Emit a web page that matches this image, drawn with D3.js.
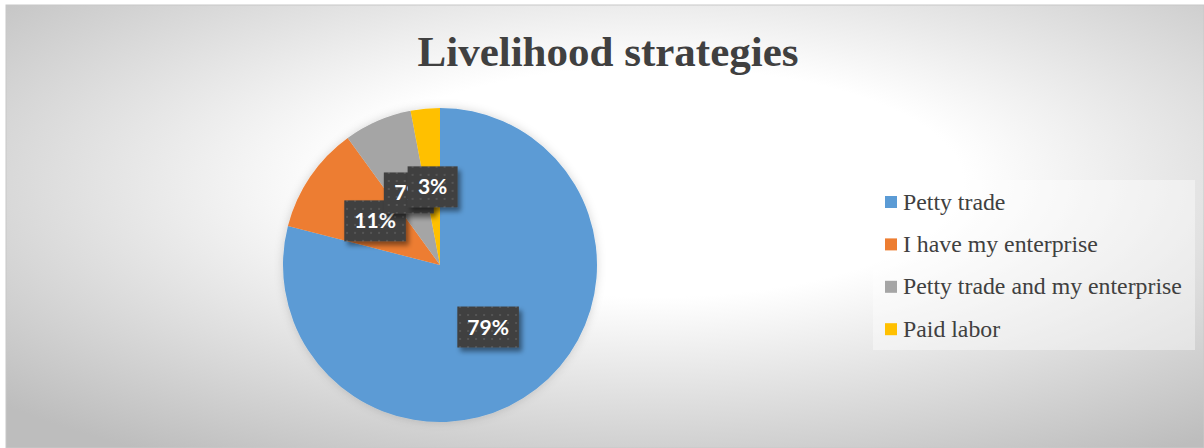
<!DOCTYPE html>
<html>
<head>
<meta charset="utf-8">
<script src="https://cdn.jsdelivr.net/npm/d3@7/dist/d3.min.js"></script>
<style>
  html, body { margin: 0; padding: 0; background: #ffffff; }
  svg { display: block; }
  .serif { font-family: "Liberation Serif", "Times New Roman", Tinos, serif; }
  .label { font-family: Lato, "Open Sans", sans-serif; }
</style>
</head>
<body>
<svg id="chart" width="1204" height="448"></svg>
<script>
// Livelihood strategies — share of respondents by main strategy
const categories = ["Petty trade", "I have my enterprise", "Petty trade and my enterprise", "Paid labor"];
const shares = [79, 11, 7, 3];
const colors = ["#5B9BD5", "#ED7D31", "#A5A5A5", "#FFC000"];
const title = "Livelihood strategies";

const W = 1204, H = 448;
const svg = d3.select("#chart");
const defs = svg.append("defs");

// chart area background: soft radial fade from white to grey
const bg = defs.append("radialGradient")
  .attr("id", "bgGrad")
  .attr("cx", 0.54).attr("cy", 0.40).attr("r", 0.74);
bg.append("stop").attr("offset", 0).attr("stop-color", "#ffffff");
bg.append("stop").attr("offset", 0.35).attr("stop-color", "#ffffff");
bg.append("stop").attr("offset", 1).attr("stop-color", "#bdbdbd");

// soft glow under the pie
const pieShadow = defs.append("filter").attr("id", "pieShadow")
  .attr("x", -0.2).attr("y", -0.2).attr("width", 1.4).attr("height", 1.4);
pieShadow.append("feGaussianBlur").attr("in", "SourceAlpha").attr("stdDeviation", 5).attr("result", "b");
pieShadow.append("feFlood").attr("flood-color", "#000").attr("flood-opacity", 0.16);
pieShadow.append("feComposite").attr("in2", "b").attr("operator", "in").attr("result", "s");
const pm = pieShadow.append("feMerge");
pm.append("feMergeNode").attr("in", "s");
pm.append("feMergeNode").attr("in", "SourceGraphic");

// drop shadow for the data label boxes
const boxShadow = defs.append("filter").attr("id", "boxShadow")
  .attr("x", -0.3).attr("y", -0.3).attr("width", 1.6).attr("height", 1.6);
boxShadow.append("feGaussianBlur").attr("in", "SourceAlpha").attr("stdDeviation", 2.5).attr("result", "b");
boxShadow.append("feOffset").attr("in", "b").attr("dx", 3).attr("dy", 4).attr("result", "o");
boxShadow.append("feFlood").attr("flood-color", "#000").attr("flood-opacity", 0.45);
boxShadow.append("feComposite").attr("in2", "o").attr("operator", "in").attr("result", "s");
const bm = boxShadow.append("feMerge");
bm.append("feMergeNode").attr("in", "s");
bm.append("feMergeNode").attr("in", "SourceGraphic");

// dotted texture for the label boxes
const dots = defs.append("pattern").attr("id", "dots")
  .attr("patternUnits", "userSpaceOnUse").attr("width", 8).attr("height", 8);
dots.append("rect").attr("width", 8).attr("height", 8).attr("fill", "#404040");
dots.append("rect").attr("x", 3).attr("y", 3).attr("width", 2).attr("height", 2).attr("fill", "#555555");

svg.append("rect")
  .attr("x", 6).attr("y", 5).attr("width", W - 6).attr("height", H - 5)
  .attr("fill", "url(#bgGrad)")
  .attr("stroke", "#c8c8c8").attr("stroke-width", 1);

svg.append("text")
  .attr("class", "serif")
  .attr("x", 608).attr("y", 66)
  .attr("text-anchor", "middle")
  .attr("font-weight", "bold")
  .attr("font-size", 43)
  .attr("fill", "#404040")
  .text(title);

// pie
const cx = 440, cy = 265, R = 157;
const pie = d3.pie().sort(null).value(d => d)(shares);
const arc = d3.arc().innerRadius(0).outerRadius(R);
const color = d3.scaleOrdinal().domain(categories).range(colors);

const g = svg.append("g").attr("transform", `translate(${cx},${cy})`);
g.append("g").attr("filter", "url(#pieShadow)")
  .selectAll("path").data(pie).join("path")
  .attr("d", arc)
  .attr("fill", (d, i) => color(categories[i]));

// data labels centred halfway along each slice's mid-angle
const labels = g.append("g").selectAll("g").data(pie).join("g")
  .attr("transform", d => `translate(${arc.centroid(d)})`);
labels.each(function(d) {
  const lg = d3.select(this);
  const rect = lg.append("rect").attr("fill", "url(#dots)").attr("filter", "url(#boxShadow)");
  const t = lg.append("text")
    .attr("class", "label")
    .attr("text-anchor", "middle")
    .attr("y", 7.5)
    .attr("font-weight", "bold")
    .attr("font-size", 21)
    .attr("fill", "#ffffff")
    .text(d.data + "%");
  const w = Math.max(t.node().getComputedTextLength() + 20, 50);
  const h = 41;
  rect.attr("x", -w / 2).attr("y", -h / 2).attr("width", w).attr("height", h);
});

// legend
const lgX = 873, lgY = 180;
svg.append("rect")
  .attr("x", lgX).attr("y", lgY).attr("width", 322).attr("height", 170)
  .attr("fill", "#ffffff").attr("fill-opacity", 0.4);
const legend = svg.append("g").selectAll("g").data(categories).join("g")
  .attr("transform", (d, i) => `translate(${lgX + 12},${202 + i * 42.4})`);
legend.append("rect")
  .attr("x", 0).attr("y", -6).attr("width", 12).attr("height", 12)
  .attr("fill", d => color(d));
legend.append("text")
  .attr("class", "serif")
  .attr("x", 18).attr("y", 7.5)
  .attr("font-size", 23.8)
  .attr("fill", "#404040")
  .text(d => d);
</script>
</body>
</html>
